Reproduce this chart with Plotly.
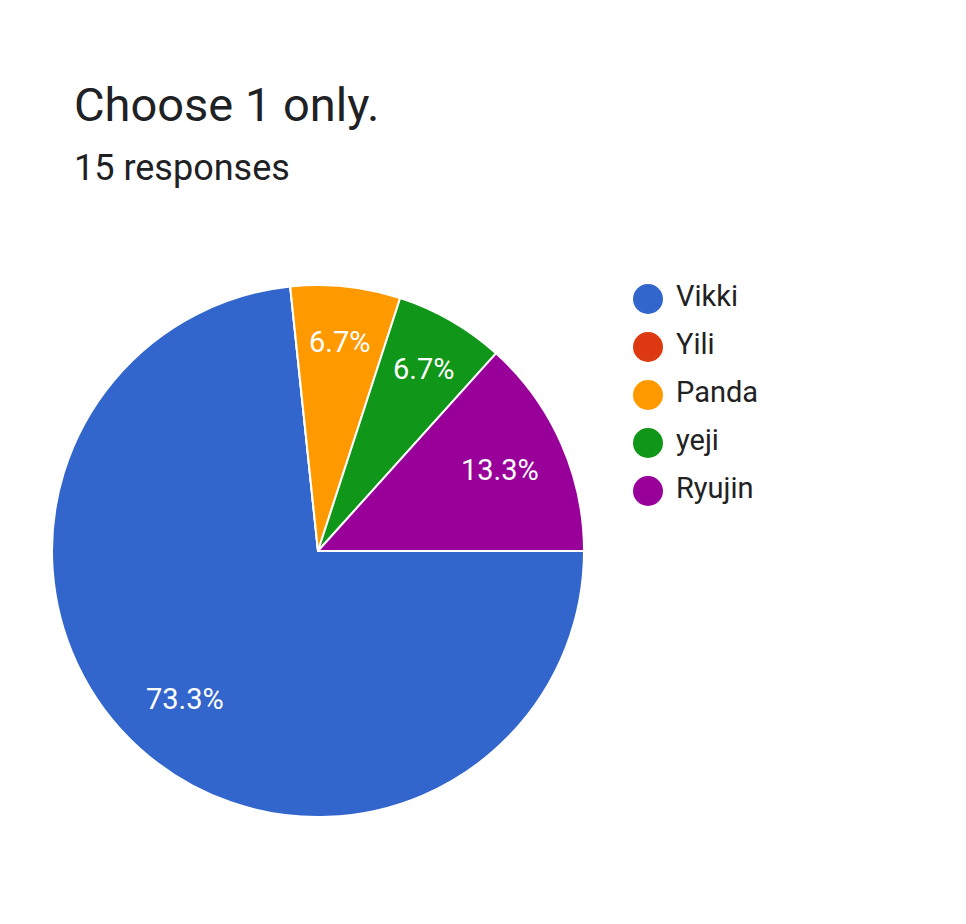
import math
import plotly.graph_objects as go

# survey answers
names = ["Vikki", "Yili", "Panda", "yeji", "Ryujin"]
counts = [11, 0, 1, 1, 2]
colors = ["#3366cc", "#dc3912", "#ff9900", "#109618", "#990099"]

W, H = 966, 924
# pie box in figure pixels (page has an 8px body margin)
cx, cy, R = 310, 543, 266
start = 90  # first slice starts at 3 o'clock

fig = go.Figure()

fig.add_trace(go.Pie(
    labels=names,
    values=counts,
    textinfo="none",
    marker=dict(colors=colors, line=dict(color="white", width=2)),
    sort=False,
    direction="clockwise",
    rotation=start,
    showlegend=False,
    hoverinfo="label+percent",
    domain=dict(x=[(cx - R) / W, (cx + R) / W], y=[1 - (cy + R) / H, 1 - (cy - R) / H]),
))

# percentage labels, placed along each slice's middle angle
total = sum(counts)
acc = 0
for c in counts:
    if c == 0:
        continue
    mid = math.radians(start + (acc + c / 2) / total * 360)
    acc += c
    # narrow slices get their label pushed a bit further out
    r = (0.75 if c / total > 0.1 else 0.79) * R
    fig.add_annotation(
        x=(cx + r * math.sin(mid)) / W,
        y=1 - (cy - r * math.cos(mid)) / H,
        xref="paper", yref="paper",
        xanchor="center", yanchor="middle",
        text=f"{c / total * 100:.1f}%",
        showarrow=False,
        font=dict(family="Roboto", size=29, color="white"),
    )

# legend: round markers on a hidden axis
fig.add_trace(go.Scatter(
    x=[40] * len(names),
    y=list(range(len(names)))[::-1],
    mode="markers",
    marker=dict(symbol="circle", size=30, color=colors),
    cliponaxis=False,
    showlegend=False,
    hoverinfo="skip",
))
fig.add_trace(go.Scatter(
    x=[68] * len(names),
    y=list(range(len(names)))[::-1],
    mode="text",
    text=names,
    textposition="middle right",
    textfont=dict(family="Roboto", size=29, color="#222222"),
    cliponaxis=False,
    showlegend=False,
    hoverinfo="skip",
))

# title and subtitle
fig.add_annotation(
    text="Choose 1 only.", x=64 / W, y=1 - 97 / H, xref="paper", yref="paper",
    xanchor="left", yanchor="middle", showarrow=False,
    font=dict(family="Roboto", size=47, color="#202124"),
)
fig.add_annotation(
    text="15 responses", x=64 / W, y=1 - 160 / H, xref="paper", yref="paper",
    xanchor="left", yanchor="middle", showarrow=False,
    font=dict(family="Roboto", size=36, color="#202124"),
)

fig.update_layout(
    width=W,
    height=H,
    margin=dict(l=0, r=0, t=0, b=0),
    paper_bgcolor="white",
    plot_bgcolor="white",
    xaxis=dict(visible=False, domain=[600 / W, 1], range=[0, W - 600], fixedrange=True),
    yaxis=dict(visible=False, domain=[1 - 507 / H, 1 - 267 / H], range=[-0.5, 4.5], fixedrange=True),
)

fig.write_html("out.html")
